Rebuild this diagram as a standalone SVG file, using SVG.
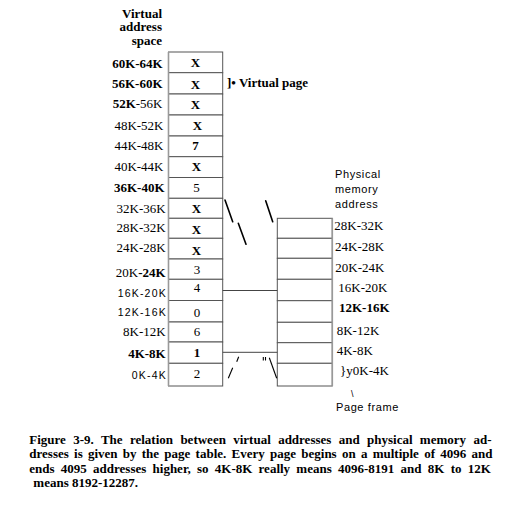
<svg xmlns="http://www.w3.org/2000/svg" width="528" height="506" viewBox="0 0 528 506">
<style>
.s{font-family:"Liberation Serif","Times New Roman",serif;font-size:13px;fill:#000}
.b{font-weight:bold}
.ss{font-family:"Liberation Sans",Arial,sans-serif;font-size:10.5px;letter-spacing:1.2px;fill:#000}
.hd{font-family:"Liberation Sans",Arial,sans-serif;font-size:11px;letter-spacing:0.6px;fill:#000}
.e{text-anchor:end}
.m{text-anchor:middle}
.cell{fill:#fff;stroke:#555;stroke-width:1}
.edge{stroke:#999;stroke-width:1.6;fill:none}
.ln{stroke:#444;stroke-width:1;fill:none}
.dg{stroke:#000;stroke-width:1.6;fill:none;stroke-linecap:round}
.dt{stroke:#000;stroke-width:1.1;fill:none}
</style>
<rect width="528" height="506" fill="#fff"/>

<g id="virtual-header">
<text class="s b e" x="162" y="17.5">Virtual</text>
<text class="s b e" x="162" y="31">address</text>
<text class="s b e" x="162" y="44.5">space</text>
</g>

<g id="virtual-table">
<rect class="cell" x="168.5" y="52" width="54.2" height="20.7"/>
<rect class="cell" x="168.5" y="72.7" width="54.2" height="21.3"/>
<rect class="cell" x="168.5" y="94" width="54.2" height="21"/>
<rect class="cell" x="168.5" y="115" width="54.2" height="21"/>
<rect class="cell" x="168.5" y="136" width="54.2" height="20.7"/>
<rect class="cell" x="168.5" y="156.7" width="54.2" height="20.8"/>
<rect class="cell" x="168.5" y="177.5" width="54.2" height="20.8"/>
<rect class="cell" x="168.5" y="198.3" width="54.2" height="20"/>
<rect class="cell" x="168.5" y="218.3" width="54.2" height="20"/>
<rect class="cell" x="168.5" y="238.3" width="54.2" height="20.7"/>
<rect class="cell" x="168.5" y="259" width="54.2" height="20.3"/>
<rect class="cell" x="168.5" y="279.3" width="54.2" height="21.2"/>
<rect class="cell" x="168.5" y="300.5" width="54.2" height="21.5"/>
<rect class="cell" x="168.5" y="322" width="54.2" height="20"/>
<rect class="cell" x="168.5" y="342" width="54.2" height="21.3"/>
<rect class="cell" x="168.5" y="363.3" width="54.2" height="22.7"/>
<line class="edge" x1="168.5" y1="52" x2="168.5" y2="386"/>
<text class="s b m" x="195.5" y="66.7">X</text>
<text class="s b m" x="195.5" y="89">X</text>
<text class="s b m" x="195.5" y="109">X</text>
<text class="s b m" x="197.5" y="130">X</text>
<text class="s b m" x="195.5" y="150">7</text>
<text class="s b m" x="196.5" y="171">X</text>
<text class="s m" x="196.5" y="192">5</text>
<text class="s b m" x="196.5" y="213">X</text>
<text class="s b m" x="196.5" y="234">X</text>
<text class="s b m" x="196.5" y="255">X</text>
<text class="s m" x="197" y="274.3">3</text>
<text class="s m" x="197" y="292.3">4</text>
<text class="s m" x="197" y="316.7">0</text>
<text class="s m" x="197" y="335.7">6</text>
<text class="s b m" x="197" y="357.3">1</text>
<text class="s m" x="197" y="378.3">2</text>
</g>

<g id="virtual-labels">
<text class="s b e" x="162.7" y="68">60K-64K</text>
<text class="s b e" x="162.5" y="87.5">56K-60K</text>
<text class="s e" x="162.5" y="107.5"><tspan class="b">52K</tspan>-56K</text>
<text class="s e" x="163.5" y="129.5">48K-52K</text>
<text class="s e" x="163.5" y="150">44K-48K</text>
<text class="s e" x="163.5" y="171">40K-44K</text>
<text class="s b e" x="164.5" y="192">36K-40K</text>
<text class="s e" x="165.7" y="213.3">32K-36K</text>
<text class="s e" x="165.7" y="231.7">28K-32K</text>
<text class="s e" x="165.7" y="251.7">24K-28K</text>
<text class="s e" x="165.7" y="276.7">20K<tspan class="b">-24K</tspan></text>
<text class="ss e" x="166.9" y="296.7">16K-20K</text>
<text class="ss e" x="166.9" y="316">12K-16K</text>
<text class="s e" x="165.7" y="336">8K-12K</text>
<text class="s b e" x="165.7" y="358">4K-8K</text>
<text class="ss e" x="166.9" y="379.3">0K-4K</text>
</g>

<g id="virtual-page-label">
<text class="s b" x="227" y="87">]• Virtual page</text>
</g>

<g id="physical-header">
<text class="hd" x="335" y="178.3">Physical</text>
<text class="hd" x="335" y="193.3">memory</text>
<text class="hd" x="335" y="208.3">address</text>
</g>

<g id="physical-table">
<rect class="cell" x="277.3" y="218.3" width="55" height="20"/>
<rect class="cell" x="277.3" y="238.3" width="55" height="20"/>
<rect class="cell" x="277.3" y="258.3" width="55" height="21"/>
<rect class="cell" x="277.3" y="279.3" width="55" height="21.4"/>
<rect class="cell" x="277.3" y="300.7" width="55" height="21.6"/>
<rect class="cell" x="277.3" y="322.3" width="55" height="20.4"/>
<rect class="cell" x="277.3" y="342.7" width="55" height="20.6"/>
<rect class="cell" x="277.3" y="363.3" width="55" height="22.7"/>
<line class="edge" x1="332.3" y1="218.3" x2="332.3" y2="386"/>
</g>

<g id="physical-labels">
<text class="s" x="334.3" y="230">28K-32K</text>
<text class="s" x="335" y="250.7">24K-28K</text>
<text class="s" x="335.3" y="271.7">20K-24K</text>
<text class="s" x="338.3" y="291.7">16K-20K</text>
<text class="s b" x="339" y="312.3">12K-16K</text>
<text class="s" x="336.7" y="335">8K-12K</text>
<text class="s" x="336.7" y="355">4K-8K</text>
<text class="s" x="340" y="375">}y0K-4K</text>
</g>

<g id="page-frame-label">
<text class="hd" x="351" y="397" style="font-size:9px;letter-spacing:0">\</text>
<text class="hd" x="336" y="410.7">Page frame</text>
</g>

<g id="connectors">
<line class="ln" x1="222.7" y1="290.5" x2="277.3" y2="290.5"/>
<line class="ln" x1="222.7" y1="352.3" x2="277.3" y2="352.3"/>
<line class="dg" x1="225" y1="200" x2="232.7" y2="221.7"/>
<line class="dg" x1="238.3" y1="223.3" x2="246" y2="244.3"/>
<line class="dg" x1="265.7" y1="200.7" x2="272.7" y2="221.7"/>
<line class="dt" x1="228.3" y1="378.3" x2="232.7" y2="367.7"/>
<line class="dt" x1="236.7" y1="361.7" x2="238.7" y2="356.7"/>
<line class="dt" x1="263.3" y1="357" x2="263.3" y2="360.5"/>
<line class="dt" x1="265.5" y1="357" x2="265.5" y2="360.5"/>
<line class="dt" x1="269.3" y1="357.7" x2="276.7" y2="378.3"/>
</g>

<g id="caption">
<text class="s b" x="29.3" y="444" style="word-spacing:4.1px">Figure 3-9. The relation between virtual addresses and physical memory ad-</text>
<text class="s b" x="29.3" y="458.3" style="word-spacing:2px">dresses is given by the page table. Every page begins on a multiple of 4096 and</text>
<text class="s b" x="29.3" y="472.7" style="word-spacing:3px">ends 4095 addresses higher, so 4K-8K really means 4096-8191 and 8K to 12K</text>
<text class="s b" x="33.3" y="486.7">means 8192-12287.</text>
</g>
</svg>
